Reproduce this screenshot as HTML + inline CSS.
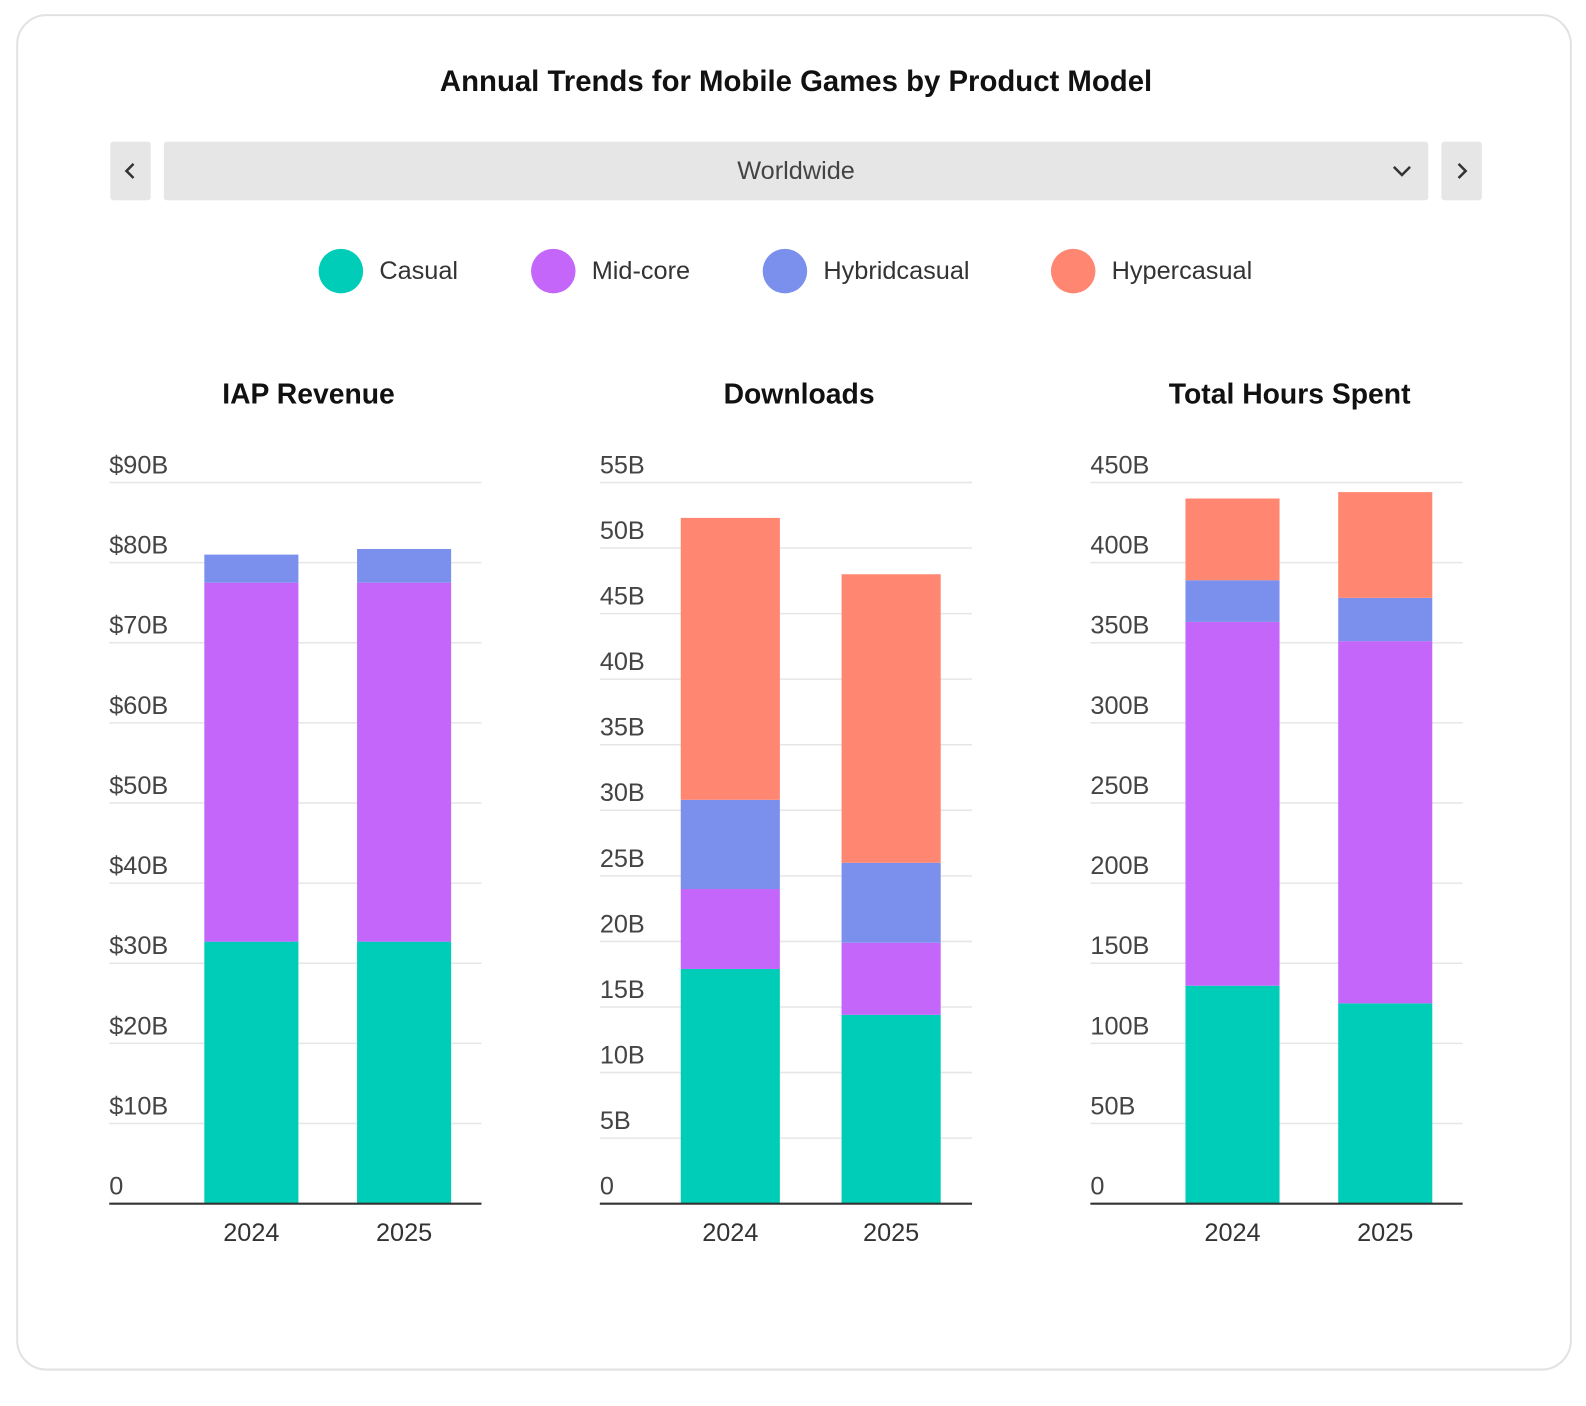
<!DOCTYPE html>
<html><head><meta charset="utf-8">
<style>
html,body{margin:0;padding:0;background:#fff;}
body{width:1586px;height:1390px;position:relative;font-family:"Liberation Sans",sans-serif;overflow:hidden;}
#wrap{position:absolute;left:0;top:0;width:1586px;height:1390px;transform:scale(1.0115);transform-origin:0 0;}
.card{position:absolute;left:16px;top:14px;width:1538px;height:1341px;border:2px solid #e2e2e2;border-radius:30px;box-sizing:border-box;}
.title{position:absolute;left:0;width:1574px;top:65px;text-align:center;font-weight:bold;font-size:29px;color:#111;}
.btn{position:absolute;top:140px;height:58px;width:40px;background:#e6e6e6;border-radius:3px;}
.sel{position:absolute;left:162px;top:140px;width:1250px;height:58px;background:#e6e6e6;border-radius:3px;text-align:center;line-height:58px;font-size:25px;color:#444;}
.leg{position:absolute;top:246px;height:44px;}
.leg .dot{position:absolute;left:0;top:0;width:44px;height:44px;border-radius:50%;}
.leg span{position:absolute;left:60px;top:8px;font-size:25px;color:#333;white-space:nowrap;}
svg{position:absolute;left:0;top:0;}
</style></head><body>
<div id="wrap">
<div class="card"></div>
<div class="title">Annual Trends for Mobile Games by Product Model</div>
<div class="btn" style="left:109px"><svg width="40" height="58"><polyline points="23,22 16,29 23,36" fill="none" stroke="#333" stroke-width="2.5"/></svg></div>
<div class="sel">Worldwide<svg width="24" height="58" style="left:1212px"><polyline points="4,25 12,33 20,25" fill="none" stroke="#333" stroke-width="2.5"/></svg></div>
<div class="btn" style="left:1425px"><svg width="40" height="58"><polyline points="17,22 24,29 17,36" fill="none" stroke="#333" stroke-width="2.5"/></svg></div>
<div class="leg" style="left:315px"><div class="dot" style="background:#00cdb8"></div><span>Casual</span></div>
<div class="leg" style="left:525px"><div class="dot" style="background:#c466fa"></div><span>Mid-core</span></div>
<div class="leg" style="left:754px"><div class="dot" style="background:#7b8fec"></div><span>Hybridcasual</span></div>
<div class="leg" style="left:1039px"><div class="dot" style="background:#ff8670"></div><span>Hypercasual</span></div>
<svg id="charts" width="1586" height="1390"></svg>
</div>
<script>
const years = ["2024","2025"];
const seriesNames = ["Casual","Mid-core","Hybridcasual","Hypercasual"];
const revCasual = [32.7, 32.7];
const revMidcore = [44.8, 44.8];
const revHybrid = [3.5, 4.2];
const revHyper = [0, 0];
const revTicks = ["0","$10B","$20B","$30B","$40B","$50B","$60B","$70B","$80B","$90B"];
const dlCasual = [17.9, 14.4];
const dlMidcore = [6.1, 5.5];
const dlHybrid = [6.8, 6.1];
const dlHyper = [21.5, 22.0];
const dlTicks = ["0","5B","10B","15B","20B","25B","30B","35B","40B","45B","50B","55B"];
const hrsCasual = [136, 125];
const hrsMidcore = [227, 226];
const hrsHybrid = [26, 27];
const hrsHyper = [51, 66];
const hrsTicks = ["0","50B","100B","150B","200B","250B","300B","350B","400B","450B"];

const colors = ["#00cdb8","#c466fa","#7b8fec","#ff8670"];
const NS = "http://www.w3.org/2000/svg";
const svg = document.getElementById("charts");
function mk(tag, attrs, parent){const e=document.createElementNS(NS,tag);for(const k in attrs)e.setAttribute(k,attrs[k]);(parent||svg).appendChild(e);return e;}

function drawChart(key, title, x0, maxV, step, ticks, series, barXs, barW, titleX){
  const y0 = 1190, yTop = 477, x1 = x0 + 368;
  const yScale = v => y0 - (v / maxV) * (y0 - yTop);
  const g = mk("g", {});
  
  
  const t = mk("text", {x:titleX, y:399, "text-anchor":"middle", "font-size":"28", "font-weight":"bold", fill:"#111", "font-family":"Liberation Sans, sans-serif"}, g);
  t.textContent = title;
  
  
  ticks.forEach((lab, i) => {
    const y = yScale(i * step);
    if (i > 0) {
      const l = mk("line", {x1:x0, x2:x1, y1:y, y2:y, stroke:"#e6e6e6", "stroke-width":"1.5"}, g);
      
      
    }
    const tx = mk("text", {x:x0, y:y - 9, "font-size":"25", fill:"#444", "font-family":"Liberation Sans, sans-serif"}, g);
    tx.textContent = lab;
    
    
  });
  years.forEach((yr, j) => {
    let acc = 0;
    series.forEach((arr, s) => {
      const v = arr[j];
      if (v <= 0) return;
      const yA = yScale(acc), yB = yScale(acc + v);
      const r = mk("rect", {x:barXs[j], y:yB, width:barW, height:yA - yB, fill:colors[s]}, g);
      
      
      acc += v;
    });
    const lt = mk("text", {x:barXs[j] + barW/2, y:1227, "text-anchor":"middle", "font-size":"25", fill:"#333", "font-family":"Liberation Sans, sans-serif"}, g);
    lt.textContent = yr;
    
    
  });
  const ax = mk("line", {x1:x0, x2:x1, y1:y0, y2:y0, stroke:"#333", "stroke-width":"2"}, g);
  
  
}
drawChart("iap-revenue", "IAP Revenue", 108, 90, 10, revTicks, [revCasual, revMidcore, revHybrid, revHyper], [202, 353], 93, 305);
drawChart("downloads", "Downloads", 593, 55, 5, dlTicks, [dlCasual, dlMidcore, dlHybrid, dlHyper], [673, 832], 98, 790);
drawChart("hours-spent", "Total Hours Spent", 1078, 450, 50, hrsTicks, [hrsCasual, hrsMidcore, hrsHybrid, hrsHyper], [1172, 1323], 93, 1275);
</script>
</body></html>
